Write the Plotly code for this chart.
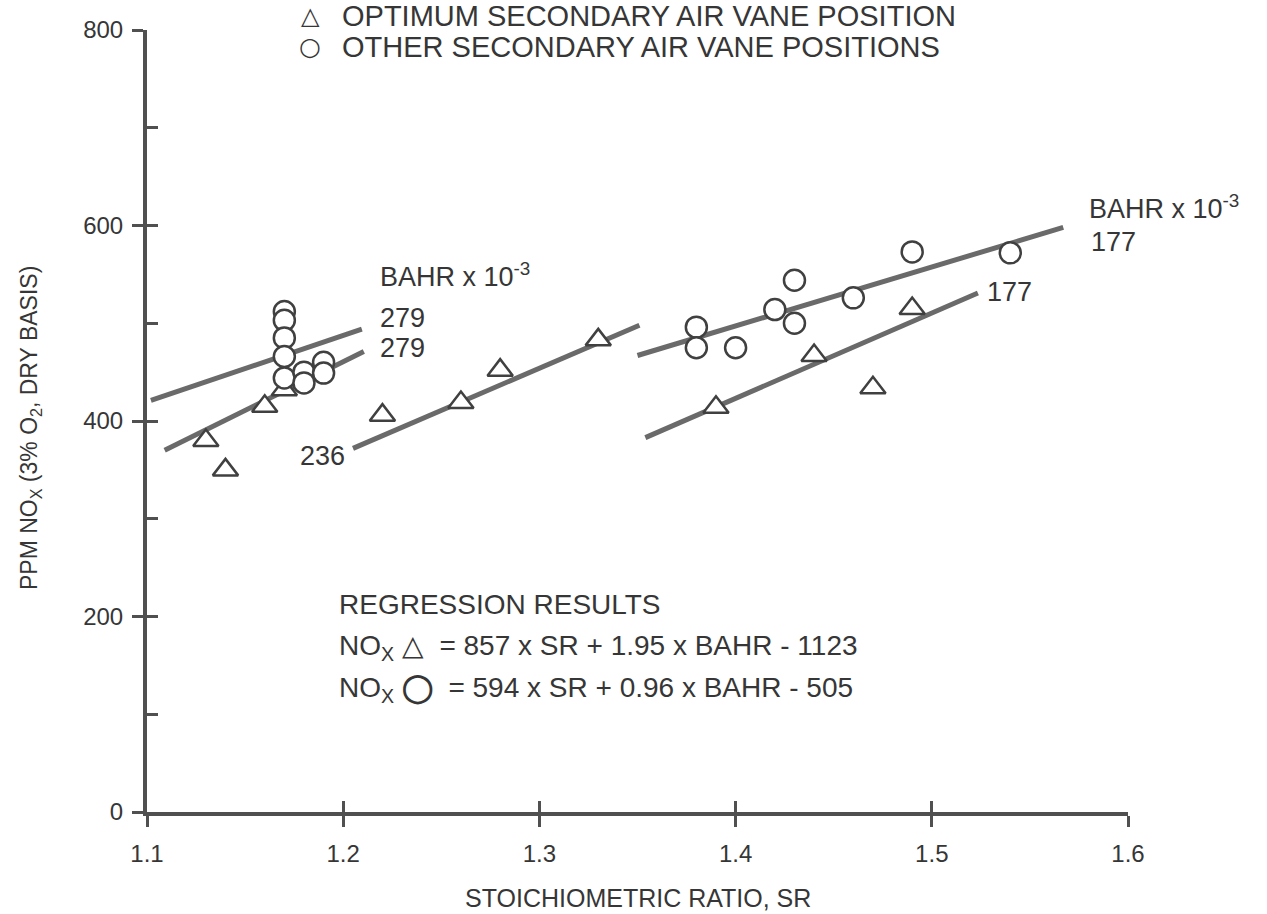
import plotly.graph_objects as go

# ---- data ----
tri_sr = [1.13, 1.14, 1.16, 1.17, 1.22, 1.26, 1.28, 1.33, 1.39, 1.44, 1.47, 1.49]
tri_nox = [380, 350, 415, 432, 406, 419, 452, 483, 414, 467, 434, 515]

circ_sr = [1.17, 1.17, 1.17, 1.17, 1.17, 1.18, 1.18, 1.19, 1.19,
           1.38, 1.38, 1.40, 1.42, 1.43, 1.43, 1.46, 1.49, 1.54]
circ_nox = [512, 503, 485, 466, 444, 450, 439, 460, 449,
            496, 475, 475, 514, 544, 500, 526, 573, 572]

# regression lines: (sr endpoints, nox endpoints)
reg_lines = [
    ([1.102, 1.2095], [421, 494]),   # circles, BAHR 279
    ([1.109, 1.2105], [370, 471]),   # triangles, BAHR 279
    ([1.205, 1.351], [372, 498]),    # triangles, BAHR 236
    ([1.350, 1.567], [467, 598]),    # circles, BAHR 177
    ([1.354, 1.5235], [383, 531]),   # triangles, BAHR 177
]

line_labels = [
    (1.2177, 549, "BAHR x 10<sup>-3</sup>"),
    (1.2177, 505, "279"),
    (1.2177, 475, "279"),
    (1.177, 364, "236"),
    (1.579, 619, "BAHR x 10<sup>-3</sup>"),
    (1.580, 583, "177"),
    (1.527, 532, "177"),
]

legend_items = [("\u25b3", "OPTIMUM SECONDARY AIR VANE POSITION"),
                ("\u25cb", "OTHER SECONDARY AIR VANE POSITIONS")]

reg_text = ["REGRESSION RESULTS",
            "NO<sub>X</sub> \u25b3  = 857 x SR + 1.95 x BAHR - 1123",
            "NO<sub>X</sub> <b>\u25ef</b>  = 594 x SR + 0.96 x BAHR - 505"]

x_ticks = [1.1, 1.2, 1.3, 1.4, 1.5, 1.6]
y_ticks = [0, 200, 400, 600, 800]

TXT = "#363636"
LN = "#6a6a6a"
FONT = "Liberation Sans"

fig = go.Figure()

for xs, ys in reg_lines:
    fig.add_trace(go.Scatter(x=xs, y=ys, mode="lines", showlegend=False,
                             line=dict(color=LN, width=5), hoverinfo="skip"))

fig.add_trace(go.Scatter(
    x=tri_sr, y=tri_nox, mode="markers", name=legend_items[0][1], showlegend=False,
    marker=dict(symbol="triangle-up", size=22, color="white",
                line=dict(color="#404040", width=2.5))))
fig.add_trace(go.Scatter(
    x=circ_sr, y=circ_nox, mode="markers", name=legend_items[1][1], showlegend=False,
    marker=dict(symbol="circle", size=21, color="white",
                line=dict(color="#404040", width=2.5))))

# dummy trace for overlay axes (inner ticks)
fig.add_trace(go.Scatter(x=[None], y=[None], xaxis="x2", yaxis="y2",
                         showlegend=False, hoverinfo="skip"))

for x, y, t in line_labels:
    fig.add_annotation(x=x, y=y, text=t, showarrow=False, xanchor="left",
                       yanchor="middle", font=dict(family=FONT, size=27, color=TXT))

# legend-like key (paper coords)
sym_sizes = [24, 25]
for i, (sym, txt) in enumerate(legend_items):
    yp = 1 - (16 + 31 * i - 30) / 782.0
    fig.add_annotation(xref="paper", yref="paper", x=(310 - 147) / 981.0, y=yp,
                       text=sym, showarrow=False, xanchor="center", yanchor="middle",
                       font=dict(family="DejaVu Sans", size=sym_sizes[i], color=TXT))
    fig.add_annotation(xref="paper", yref="paper", x=(340 - 147) / 981.0, y=yp,
                       text=txt, showarrow=False, xanchor="left", yanchor="middle",
                       font=dict(family=FONT, size=29, color=TXT))

for i, t in enumerate(reg_text):
    fig.add_annotation(x=1.197, y=212 - 43.5 * i, text=t, showarrow=False, xanchor="left",
                       yanchor="middle", font=dict(family=FONT, size=28, color=TXT))

# axis titles
fig.add_annotation(xref="paper", yref="paper", x=0.5, y=-(898 - 812) / 782.0,
                   yanchor="middle", text="STOICHIOMETRIC RATIO, SR", showarrow=False,
                   font=dict(family=FONT, size=25, color=TXT))
fig.add_annotation(xref="paper", yref="paper", x=-(147 - 30) / 981.0, y=0.491,
                   textangle=-90, xanchor="center",
                   text="PPM NO<sub>X</sub> (3% O<sub>2</sub>, DRY BASIS)", showarrow=False,
                   font=dict(family=FONT, size=23, color=TXT))

axis_common = dict(showgrid=False, zeroline=False, showline=True,
                   linecolor="#505050", linewidth=4, tickcolor="#505050",
                   tickwidth=3)

fig.update_layout(
    width=1267, height=914,
    margin=dict(l=147, r=139, t=30, b=102, autoexpand=False),
    paper_bgcolor="white", plot_bgcolor="white",
    showlegend=False,
    xaxis=dict(range=[1.1, 1.6], tickvals=x_ticks, ticktext=[str(v) for v in x_ticks],
               ticks="outside", ticklen=11, ticklabelstandoff=6, automargin=False,
               tickfont=dict(family=FONT, size=24, color=TXT), **axis_common),
    yaxis=dict(range=[0, 800], tickvals=y_ticks, ticks="outside", ticklen=11,
               ticklabelstandoff=4, automargin=False,
               tickfont=dict(family=FONT, size=24, color=TXT), **axis_common),
    xaxis2=dict(range=[1.1, 1.6], overlaying="x", anchor="y2", side="bottom",
                tickvals=x_ticks, ticks="inside", ticklen=11, showticklabels=False,
                automargin=False, **axis_common),
    yaxis2=dict(range=[0, 800], overlaying="y", anchor="x2", dtick=100, tick0=0,
                ticks="inside", ticklen=11, showticklabels=False, automargin=False,
                **axis_common),
    font=dict(family=FONT, color=TXT),
)

fig.write_html("out.html", config={"displayModeBar": False},
               post_script="document.body.style.margin='0';")
